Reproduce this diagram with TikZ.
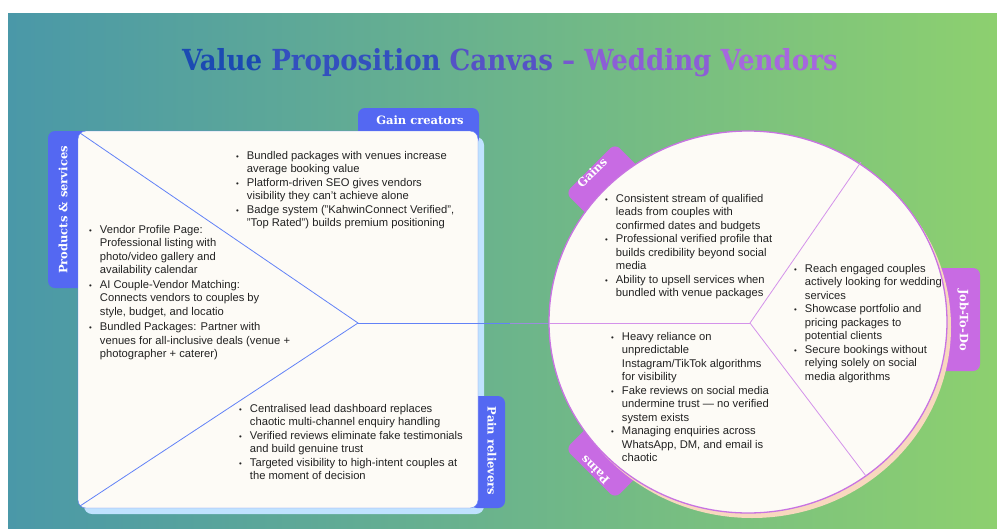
\documentclass[tikz,border=0pt]{standalone}
\usepackage{fontspec}
\setmainfont{Liberation Sans}
\newfontfamily\titlefont{DejaVu Serif Condensed}
\newfontfamily\tabfont{DejaVu Serif}
\usetikzlibrary{calc}
\definecolor{bgleft}{HTML}{4A98A8}
\definecolor{bgright}{HTML}{8DD06F}
\definecolor{tabblue}{HTML}{5468F2}
\definecolor{tabpurple}{HTML}{C86BE3}
\definecolor{paper}{HTML}{FDFBF6}
\definecolor{edgeblue}{HTML}{6282F7}
\definecolor{shadowblue}{HTML}{BFE2FF}
\definecolor{edgepurple}{HTML}{C873E2}
\definecolor{linepurple}{HTML}{D492EA}
\definecolor{midline}{HTML}{9A8CDC}
\definecolor{shadowpeach}{HTML}{F8D8BE}
\definecolor{inktext}{HTML}{222222}
\definecolor{titleA}{HTML}{1B4AB2}
\definecolor{titleB}{HTML}{3350BE}
\definecolor{titleC}{HTML}{5552C6}
\definecolor{titleD}{HTML}{7658CE}
\definecolor{titleE}{HTML}{8C5ED6}
\definecolor{titleF}{HTML}{A667DE}
\newcommand{\bl}{\scalebox{0.7}{\textbullet}}
\tikzstyle{blurb} = [inner sep=0pt, anchor=base west, text=inktext, font=\fontsize{11.2}{13.5}\selectfont]
\tikzstyle{tablabel} = [inner sep=0pt, text=white, font=\tabfont\bfseries\fontsize{11.5}{13}\selectfont]

\begin{document}
\begin{tikzpicture}[x=1pt,y=-1pt]
\useasboundingbox (0,0) rectangle (997,528);
\shade[left color=bgleft,right color=bgright] (8,13) rectangle (997,528);
% title
\node (title) at (510,63) {\titlefont\bfseries\fontsize{29}{33}\selectfont
  \textcolor{titleA}{Value} \textcolor{titleB}{Proposition} \textcolor{titleC}{Canvas}
  \textcolor{titleD}{–} \textcolor{titleE}{Wedding} \textcolor{titleF}{Vendors}};
%
% value map (left panel)
\fill [shadowblue, rounded corners=8pt] (84,137) rectangle (484,514);
\fill [tabblue, rounded corners=7pt] (48,131) rectangle (92,288);
\fill [tabblue, rounded corners=7pt] (358,108) rectangle (479,145);
\fill [tabblue, rounded corners=7pt] (470,396) rectangle (505,508);
\draw [edgeblue, fill=paper, rounded corners=8pt] (78,131) rectangle (478,508);
\coordinate (tl) at (80,133);
\coordinate (bl) at (80,506);
\coordinate (hub) at (358,323);
\coordinate (fade) at (510,323);
\draw [edgeblue, line width=0.8pt] (tl)--(hub)--(bl);
\draw [edgeblue, line width=0.8pt] (hub)--(fade);
\node [tablabel, rotate=90] (ps) at (63,210) {Products \& services};
\node [tablabel] (gc) at (420,120) {Gain creators};
\node [tablabel, rotate=-90] (pr) at (492,451) {Pain relievers};
%
\node [blurb] (gctext) at (236,159) {\begin{tabular}[t]{@{}l@{\hspace{8pt}}l@{}}
\bl & Bundled packages with venues increase\\
    & average booking value\\
\bl & Platform-driven SEO gives vendors\\
    & visibility they can't achieve alone\\
\bl & Badge system ("KahwinConnect Verified",\\
    & "Top Rated") builds premium positioning
\end{tabular}};
\node [blurb] (pstext) at (89,233) {\begin{tabular}[t]{@{}l@{\hspace{8pt}}l@{}}
\bl & Vendor Profile Page:\\
    & Professional listing with\\
    & photo/video gallery and\\
    & availability calendar\\[1pt]
\bl & AI Couple-Vendor Matching:\\
    & Connects vendors to couples by\\
    & style, budget, and locatio\\[2pt]
\bl & Bundled Packages: Partner with\\
    & venues for all-inclusive deals (venue +\\
    & photographer + caterer)
\end{tabular}};
\node [blurb] (prtext) at (239,412) {\begin{tabular}[t]{@{}l@{\hspace{8pt}}l@{}}
\bl & Centralised lead dashboard replaces\\
    & chaotic multi-channel enquiry handling\\
\bl & Verified reviews eliminate fake testimonials\\
    & and build genuine trust\\
\bl & Targeted visibility to high-intent couples at\\
    & the moment of decision
\end{tabular}};
%
% customer profile (circle)
\fill [tabpurple, rounded corners=7pt, rotate around={45:(603,181)}] (568,163) rectangle (638,199);
\fill [tabpurple, rounded corners=7pt, rotate around={-45:(603,461)}] (568,443) rectangle (638,479);
\fill [tabpurple, rounded corners=7pt] (930,268) rectangle (980,371);
\fill [shadowpeach] (752,327) ellipse [x radius=199pt, y radius=191pt];
\draw [edgepurple, line width=1.3pt, fill=paper] (748,322) ellipse [x radius=199pt, y radius=191pt];
\coordinate (west) at (549,323);
\coordinate (core) at (750,323);
\coordinate (ne) at (861,162);
\coordinate (se) at (866,476);
\draw [midline, line width=0.8pt] (fade)--(west);
\draw [linepurple, line width=0.8pt] (west)--(core);
\draw [linepurple, line width=0.8pt] (ne)--(core)--(se);
\node [tablabel, rotate=45] (gains) at (592,173) {Gains};
\node [tablabel, rotate=135] (pains) at (595,470) {Pains};
\node [tablabel, rotate=-90] (jobs) at (963,320) {Job-To-Do};
%
\node [blurb] (gtext) at (605,202) {\begin{tabular}[t]{@{}l@{\hspace{8pt}}l@{}}
\bl & Consistent stream of qualified\\
    & leads from couples with\\
    & confirmed dates and budgets\\
\bl & Professional verified profile that\\
    & builds credibility beyond social\\
    & media\\
\bl & Ability to upsell services when\\
    & bundled with venue packages
\end{tabular}};
\node [blurb] (ptext) at (611,340) {\begin{tabular}[t]{@{}l@{\hspace{8pt}}l@{}}
\bl & Heavy reliance on\\
    & unpredictable\\
    & Instagram/TikTok algorithms\\
    & for visibility\\
\bl & Fake reviews on social media\\
    & undermine trust — no verified\\
    & system exists\\
\bl & Managing enquiries across\\
    & WhatsApp, DM, and email is\\
    & chaotic
\end{tabular}};
\node [blurb] (jtext) at (794,272) {\begin{tabular}[t]{@{}l@{\hspace{8pt}}l@{}}
\bl & Reach engaged couples\\
    & actively looking for wedding\\
    & services\\
\bl & Showcase portfolio and\\
    & pricing packages to\\
    & potential clients\\
\bl & Secure bookings without\\
    & relying solely on social\\
    & media algorithms
\end{tabular}};
\end{tikzpicture}
\end{document}
